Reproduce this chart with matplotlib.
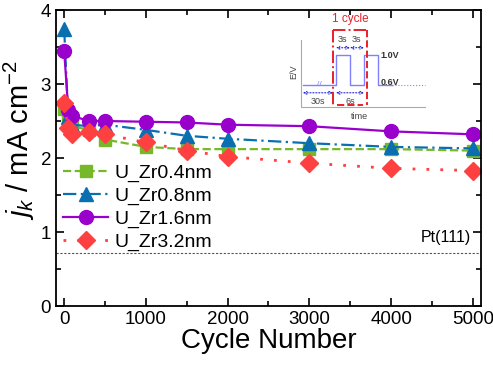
import numpy as np
import matplotlib
matplotlib.use('Agg')
import matplotlib.pyplot as plt
from matplotlib.ticker import MultipleLocator

plt.rcParams['font.family'] = ['Liberation Sans', 'DejaVu Sans']
plt.rcParams['mathtext.fontset'] = 'custom'
plt.rcParams['mathtext.rm'] = 'Liberation Sans'
plt.rcParams['mathtext.it'] = 'Liberation Sans:italic'

# --- data ---
cycles = [0, 50, 100, 300, 500, 1000, 1500, 2000, 3000, 4000, 5000]
zr04 = [2.66, 2.50, 2.43, 2.38, 2.25, 2.15, 2.12, 2.12, 2.12, 2.12, 2.10]
zr08 = [3.74, 2.55, 2.45, 2.43, 2.45, 2.38, 2.30, 2.26, 2.20, 2.15, 2.13]
zr16 = [3.45, 2.65, 2.57, 2.50, 2.50, 2.49, 2.48, 2.45, 2.43, 2.36, 2.32]
zr32 = [2.74, 2.40, 2.33, 2.35, 2.32, 2.21, 2.10, 2.02, 1.93, 1.86, 1.83]
pt111 = 0.72

labels = ['U_Zr0.4nm', 'U_Zr0.8nm', 'U_Zr1.6nm', 'U_Zr3.2nm']
colors = ['#76b82a', '#0a6fb0', '#9a00cc', '#ff4040']

fig = plt.figure(figsize=(4.93, 3.65), dpi=100)
ax = fig.add_axes([0.1136, 0.1616, 0.862, 0.811])

ax.plot(cycles, zr04, ls='--', color=colors[0], lw=1.6, marker='s', ms=8, label=labels[0])
ax.plot(cycles, zr08, ls=(0, (6, 2, 1, 2)), color=colors[1], lw=1.6, marker='^', ms=10, label=labels[1])
ax.plot(cycles, zr16, ls='-', color=colors[2], lw=1.6, marker='o', ms=10, label=labels[2])
ax.plot(cycles, zr32, ls=(0, (1, 4)), color=colors[3], lw=2, marker='D', ms=9, label=labels[3])

ax.axhline(pt111, color='#555555', lw=0.8, ls=(0, (2, 1.5)))
ax.text(4980, pt111 + 0.1, 'Pt(111)', ha='right', va='bottom', fontsize=11.5)

ax.set_xlim(-100, 5100)
ax.set_ylim(0, 4)
ax.xaxis.set_major_locator(MultipleLocator(1000))
ax.xaxis.set_minor_locator(MultipleLocator(500))
ax.yaxis.set_major_locator(MultipleLocator(1))
ax.yaxis.set_minor_locator(MultipleLocator(0.5))
ax.tick_params(which='both', direction='in', top=True, right=True, labelsize=13.5, width=1.2)
ax.tick_params(which='major', length=6)
ax.tick_params(which='minor', length=3.5)
for s in ax.spines.values():
    s.set_linewidth(1.3)

ax.set_xlabel('Cycle Number', fontsize=20, labelpad=0)
ax.set_ylabel('$j_k$ / mA cm$^{-2}$', fontsize=21)
ax.yaxis.set_label_coords(-0.045, 0.56)

ax.legend(loc='upper left', bbox_to_anchor=(-0.015, 0.525), frameon=False, fontsize=14,
          handlelength=2.3, handletextpad=0.35, labelspacing=0.27, borderaxespad=0.3)

# --- inset schematic of one potential cycle ---
ins = fig.add_axes([0.588, 0.658, 0.284, 0.288])
ins.set_xlim(290, 430)
ins.set_ylim(125, 20)
ins.axis('off')
wave_col = '#8080ff'
ins.plot([301, 301, 425], [40, 107, 107], color='#aaaaaa', lw=0.8)
ins.plot([303, 336, 336, 350, 350, 364, 364, 378, 378, 392], [85, 85, 55, 55, 85, 85, 55, 55, 85, 85],
         color=wave_col, lw=1)
ins.plot([392, 425], [85, 85], color=wave_col, lw=0.8, ls=':')
ins.text(319, 85, '//', color=wave_col, fontsize=6, ha='center', va='center')
ins.plot([333, 333], [30, 105], color='#e8202a', lw=1.4, ls='-.')
ins.plot([367, 367], [30, 105], color='#e8202a', lw=1.4, ls='--')
ins.plot([333, 367], [30, 30], color='#e8202a', lw=1.4, ls='-.')
ins.plot([337, 363], [105, 105], color='#e8202a', lw=1.4, ls='--')
ins.text(350, 25, '1 cycle', color='#e8202a', fontsize=8.5, ha='center', va='bottom')
arr = dict(arrowstyle='<->', color='#2020dd', lw=0.8, ls=':', shrinkA=0, shrinkB=0, mutation_scale=5)
ins.annotate('', xy=(336, 48), xytext=(350, 48), arrowprops=arr)
ins.annotate('', xy=(350, 48), xytext=(364, 48), arrowprops=arr)
ins.annotate('', xy=(303, 93), xytext=(333, 93), arrowprops=arr)
ins.annotate('', xy=(336, 93), xytext=(364, 93), arrowprops=arr)
ins.text(343, 44, '3s', fontsize=6.5, ha='center', va='bottom', color='#444444')
ins.text(357, 44, '3s', fontsize=6.5, ha='center', va='bottom', color='#444444')
ins.text(318, 97, '30s', fontsize=6.5, ha='center', va='top', color='#444444')
ins.text(350, 97, '6s', fontsize=6.5, ha='center', va='top', color='#444444')
ins.text(381, 56, '1.0V', fontsize=6.5, ha='left', va='center', fontweight='bold', color='#333333')
ins.text(381, 83, '0.6V', fontsize=6.5, ha='left', va='center', fontweight='bold', color='#333333')
ins.text(294, 72, 'E/V', fontsize=6.5, ha='center', va='center', rotation=90, color='#444444')
ins.text(360, 117, 'time', fontsize=6.5, ha='center', va='center', color='#444444')

fig.savefig('out.png', dpi=100)
